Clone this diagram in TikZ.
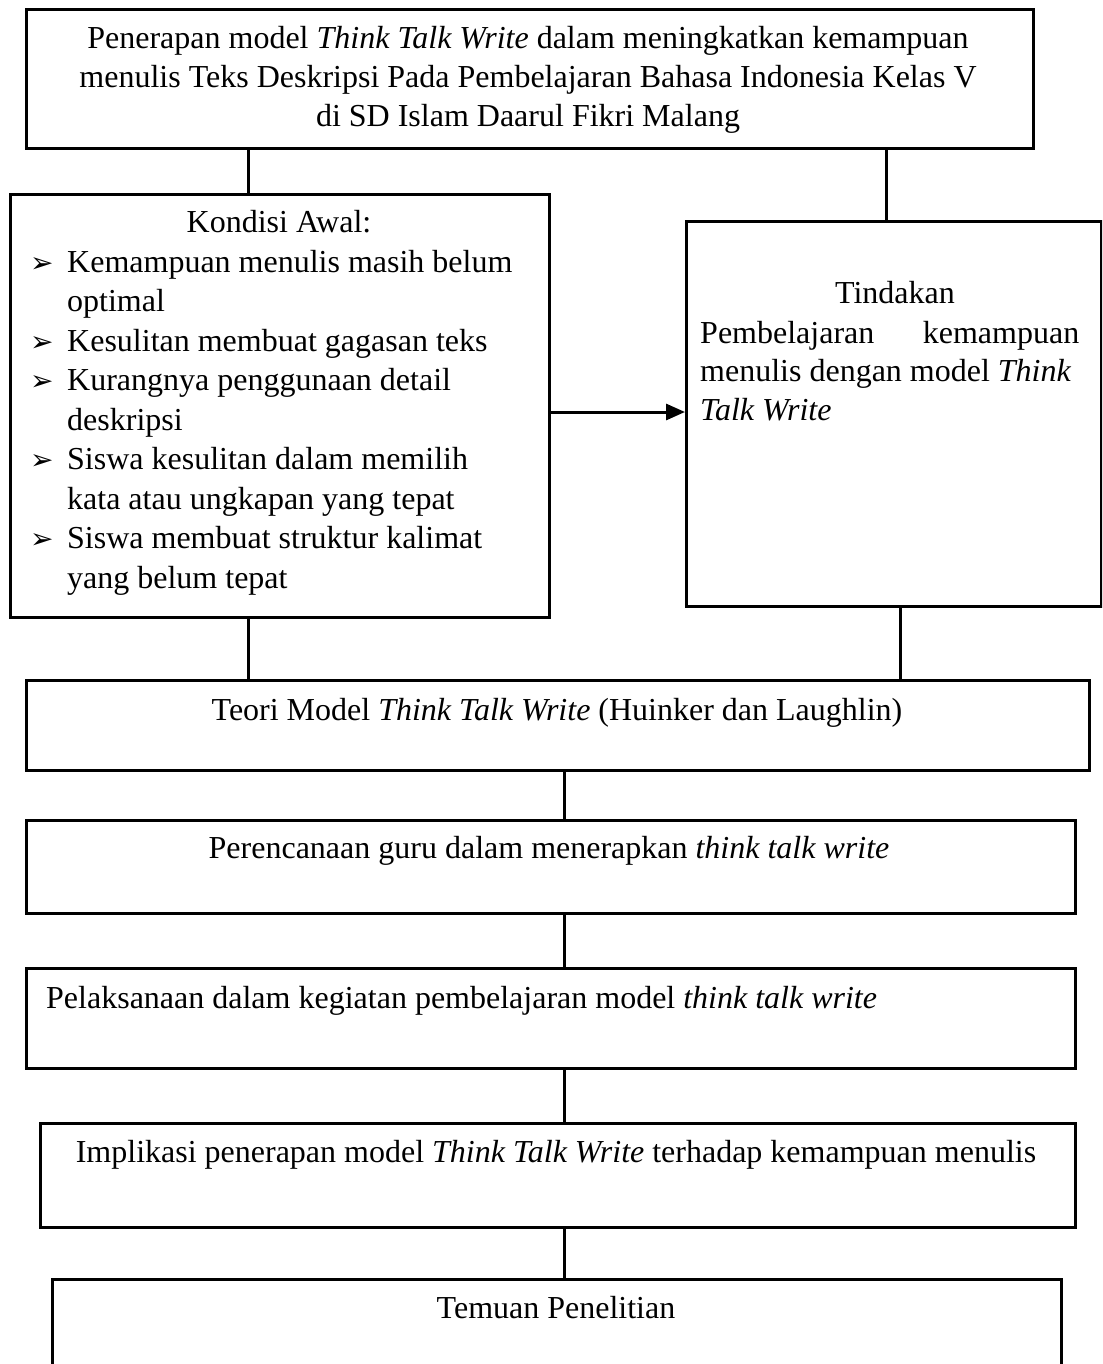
\documentclass[tikz,border=0pt]{standalone}
\usepackage{fontspec}
\setmainfont{Liberation Serif}
\newfontfamily\dingfont{DejaVu Sans}
\usetikzlibrary{arrows.meta}
\newcommand{\bul}{\makebox[37pt][l]{\raisebox{0pt}{\dingfont\fontsize{28}{28}\selectfont ➢}}}
\begin{document}
\begin{tikzpicture}[x=1pt,y=-1pt,
  box/.style={draw, line width=2.8pt, rectangle, inner sep=0pt, anchor=north west},
  conn/.style={line width=3pt},
  txt/.style={inner sep=0pt, font=\fontsize{32}{39}\selectfont}]
\clip (0,0) rectangle (1102,1364);
% boxes
\node[box, minimum width=1007pt, minimum height=139pt] (top) at (25,8) {};
\node[box, minimum width=539pt, minimum height=423pt] (kond) at (9,193) {};
\node[box, minimum width=415pt, minimum height=385pt] (tind) at (685,220) {};
\node[box, minimum width=1063pt, minimum height=90pt] (teori) at (25,679) {};
\node[box, minimum width=1049pt, minimum height=93pt] (peren) at (25,819) {};
\node[box, minimum width=1049pt, minimum height=100pt] (pelak) at (25,967) {};
\node[box, minimum width=1035pt, minimum height=104pt] (impl) at (39,1122) {};
\node[box, minimum width=1009pt, minimum height=142pt] (temuan) at (51,1278) {};
% texts
\node[txt, anchor=base] (toptext) at (528,49) {\begin{tabular}[t]{@{}c@{}}Penerapan model \textit{Think Talk Write} dalam meningkatkan kemampuan\\ menulis Teks Deskripsi Pada Pembelajaran Bahasa Indonesia Kelas V\\ di SD Islam Daarul Fikri Malang\end{tabular}};
\node[txt, anchor=base] (kondhead) at (279,233) {Kondisi Awal:};
\node[txt, anchor=base west, font=\fontsize{32}{39.5}\selectfont] (kondlist) at (30,272) {\begin{tabular}[t]{@{}l@{}l@{}}
\bul & Kemampuan menulis masih belum\\
 & optimal\\
\bul & Kesulitan membuat gagasan teks\\
\bul & Kurangnya penggunaan detail\\
 & deskripsi\\
\bul & Siswa kesulitan dalam memilih\\
 & kata atau ungkapan yang tepat\\
\bul & Siswa membuat struktur kalimat\\
 & yang belum tepat
\end{tabular}};
\node[txt, anchor=base] (tindhead) at (895,303) {Tindakan};
\node[txt, anchor=base west, font=\fontsize{32}{38.5}\selectfont] (tindtext) at (700,343) {\begin{tabular}[t]{@{}l@{}}\makebox[379pt][s]{Pembelajaran kemampuan}\\ menulis dengan model \textit{Think}\\ \textit{Talk Write}\end{tabular}};
\node[txt, anchor=base] (teoritext) at (557,720) {Teori Model \textit{Think Talk Write} (Huinker dan Laughlin)};
\node[txt, anchor=base] (perentext) at (549,858) {Perencanaan guru dalam menerapkan \textit{think talk write}};
\node[txt, anchor=base west] (pelaktext) at (46,1008) {Pelaksanaan dalam kegiatan pembelajaran model \textit{think talk write}};
\node[txt, anchor=base] (impltext) at (556,1162) {Implikasi penerapan model \textit{Think Talk Write} terhadap kemampuan menulis};
\node[txt, anchor=base] (temuantext) at (556,1318) {Temuan Penelitian};
% connector guides
\coordinate (xL) at (248,0);
\coordinate (xR1) at (886,0);
\coordinate (xR2) at (900,0);
\coordinate (xM) at (564,0);
\coordinate (yA) at (0,412);
% connectors
\draw[conn] (top.south -| xL) -- (kond.north -| xL);
\draw[conn] (top.south -| xR1) -- (tind.north -| xR1);
\draw[conn, -{Triangle[length=19pt,width=16pt]}] (kond.east |- yA) -- (tind.west |- yA);
\draw[conn] (kond.south -| xL) -- (teori.north -| xL);
\draw[conn] (tind.south -| xR2) -- (teori.north -| xR2);
\draw[conn] (teori.south -| xM) -- (peren.north -| xM);
\draw[conn] (peren.south -| xM) -- (pelak.north -| xM);
\draw[conn] (pelak.south -| xM) -- (impl.north -| xM);
\draw[conn] (impl.south -| xM) -- (temuan.north -| xM);
\end{tikzpicture}
\end{document}
